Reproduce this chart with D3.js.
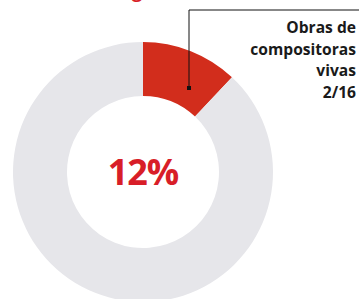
<!DOCTYPE html>
<html>
<head>
<meta charset="utf-8">
<script src="https://cdn.jsdelivr.net/npm/d3@7"></script>
<style>
  body { margin: 0; background: #fff; }
  svg { display: block; }
</style>
</head>
<body>
<div id="chart"></div>
<script>
// data
var categories = ["Compositoras vivas", "Resto"];
var shares = [12, 88];
var centerLabel = "12%";
var calloutLines = ["Obras de", "compositoras", "vivas", "2/16"];

var svgWidth = 359;
var svgHeight = 299;
var cx = 143, cy = 172;
var outerR = 130, innerR = 76;

var svg = d3.select("#chart")
    .append("svg")
    .attr("width", svgWidth)
    .attr("height", svgHeight);

// cut-off title descender at the top
svg.append("text")
    .attr("x", 132)
    .attr("y", -2)
    .attr("font-family", "Open Sans")
    .attr("font-weight", 700)
    .attr("font-size", 18)
    .attr("fill", "#d81e28")
    .text("g");

var pieData = d3.pie().sort(null)(shares);

var arc = d3.arc()
    .innerRadius(innerR)
    .outerRadius(outerR);

var colors = d3.scaleOrdinal()
    .domain(categories)
    .range(["#d22d1c", "#e6e6ea"]);

var g = svg.append("g")
    .attr("transform", `translate(${cx}, ${cy})`);

g.selectAll("path")
    .data(pieData)
    .enter()
    .append("path")
    .attr("d", arc)
    .attr("fill", (d, i) => colors(categories[i]));

// center value
g.append("text")
    .attr("text-anchor", "middle")
    .attr("y", 13)
    .attr("font-family", "Open Sans")
    .attr("font-weight", 700)
    .attr("font-size", 36)
    .attr("letter-spacing", -1)
    .attr("fill", "#d81e28")
    .text(centerLabel);

// leader line
var dot = [189, 88];
svg.append("path")
    .attr("d", `M${dot[0]},${dot[1]} V10 H${svgWidth}`)
    .attr("fill", "none")
    .attr("stroke", "#111")
    .attr("stroke-width", 1);

svg.append("rect")
    .attr("x", dot[0] - 2)
    .attr("y", dot[1] - 2)
    .attr("width", 4)
    .attr("height", 4)
    .attr("fill", "#111");

// callout text
svg.append("text")
    .attr("text-anchor", "end")
    .attr("font-family", "Open Sans")
    .attr("font-weight", 700)
    .attr("font-size", 15.6)
    .attr("fill", "#1a1a1a")
    .selectAll("tspan")
    .data(calloutLines)
    .enter()
    .append("tspan")
    .attr("x", 356)
    .attr("y", (d, i) => 33 + i * 21.7)
    .text(d => d);
</script>
</body>
</html>
